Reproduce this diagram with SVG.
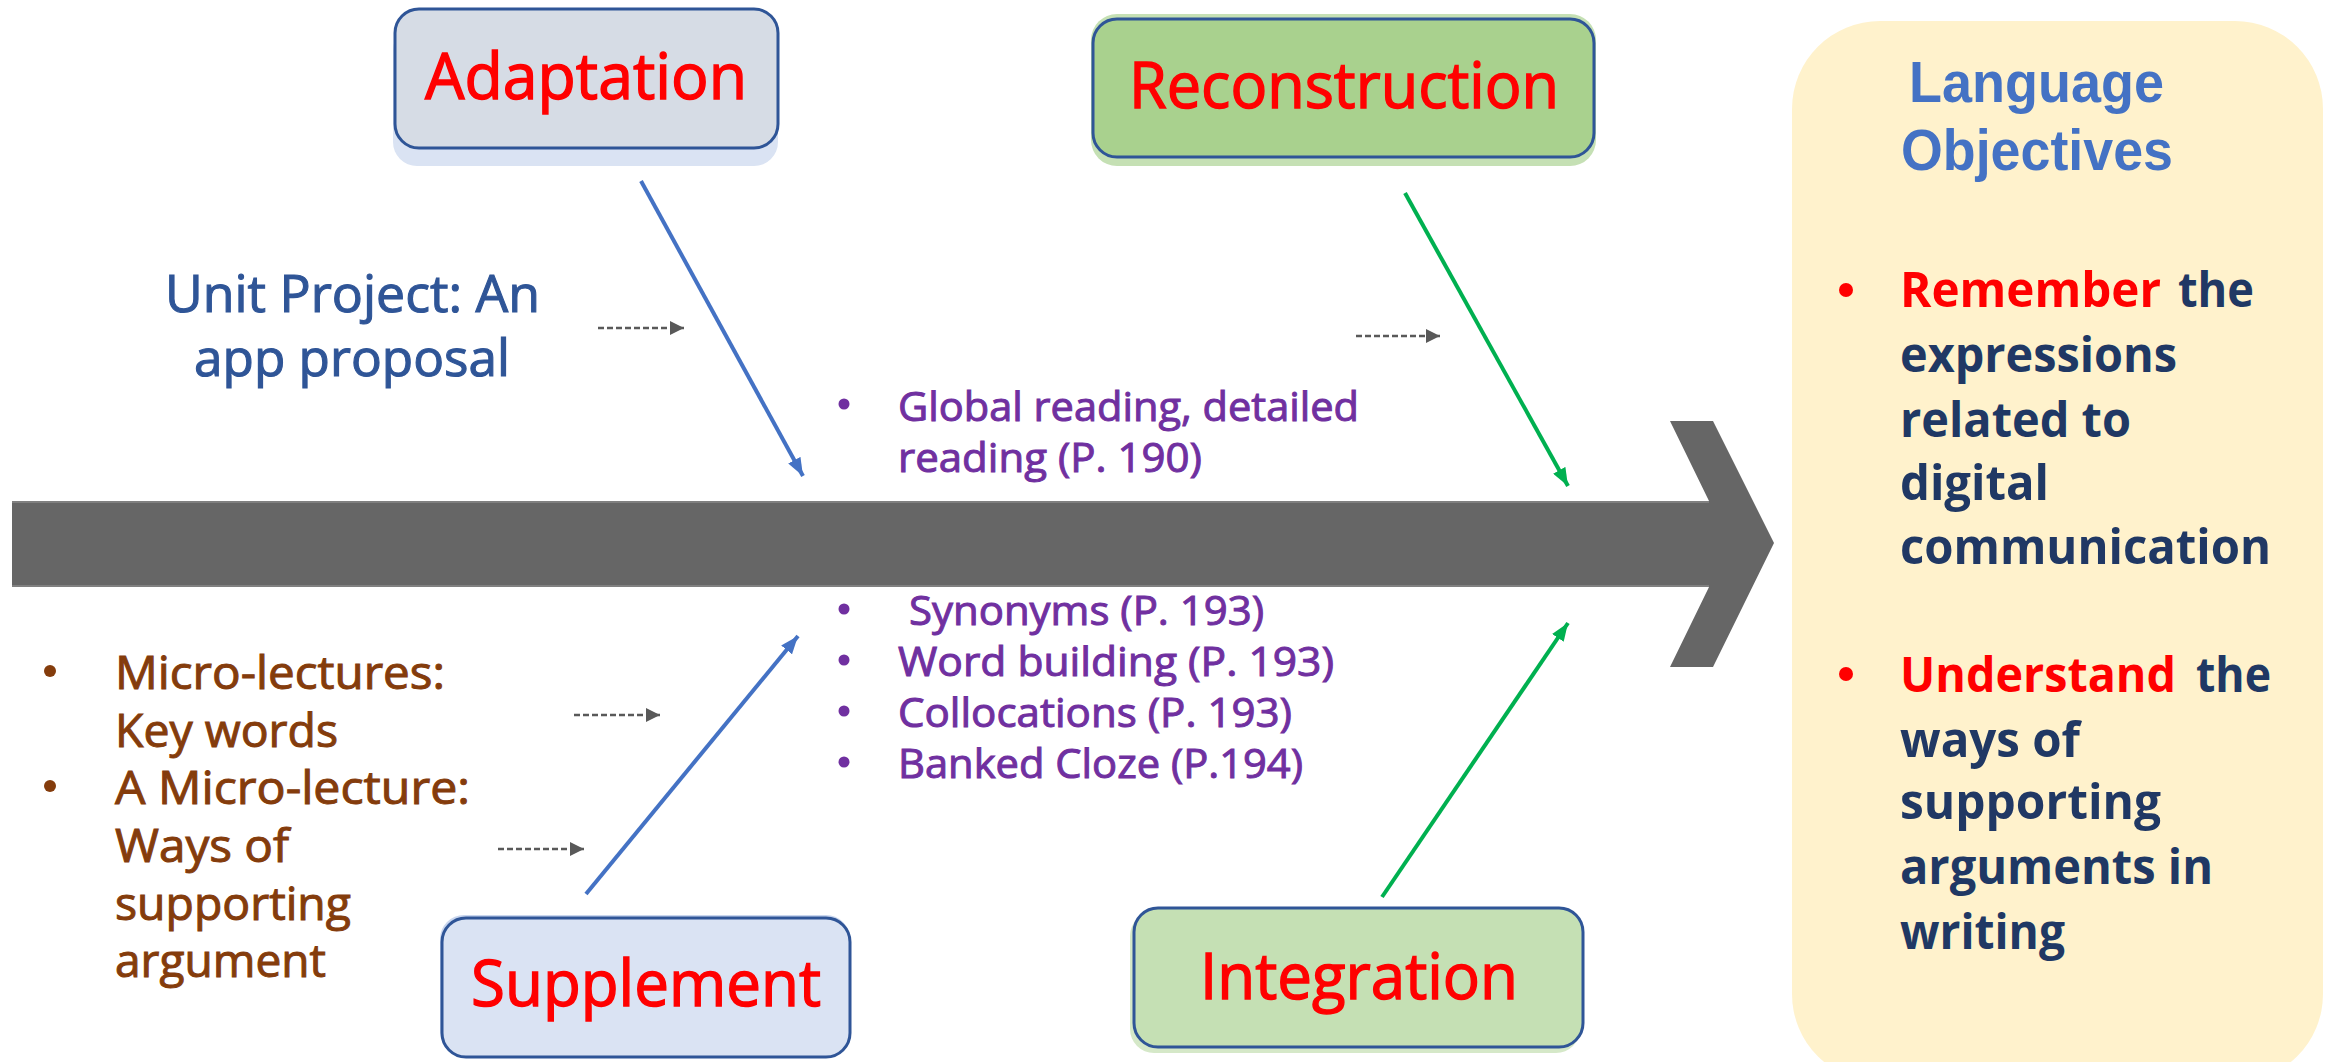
<svg xmlns="http://www.w3.org/2000/svg" width="2328" height="1062" viewBox="0 0 2328 1062">
<defs>
<style>
.box-title{font-family:"Open Sans","Liberation Sans",Arial,sans-serif;font-size:64px;fill:#ff0000;stroke:#ff0000;stroke-width:1.4}
.blue-txt{font-family:"Open Sans","Liberation Sans",Arial,sans-serif;font-size:52px;fill:#2f5597;stroke:#2f5597;stroke-width:1.1}
.brown{font-family:"Open Sans","Liberation Sans",Arial,sans-serif;font-size:46px;fill:#843c0c;stroke:#843c0c;stroke-width:1}
.purple{font-family:"Open Sans","Liberation Sans",Arial,sans-serif;font-size:41px;fill:#7030a0;stroke:#7030a0;stroke-width:1}
.obj-title{font-family:"Liberation Sans",Arial,sans-serif;font-size:58px;font-weight:bold;fill:#4472c4}
.obj{font-family:"Open Sans","Liberation Sans",Arial,sans-serif;font-size:49px;font-weight:bold;fill:#203864}
.obj-red{font-family:"Open Sans","Liberation Sans",Arial,sans-serif;font-size:49px;font-weight:bold;fill:#ff0000}
.box{stroke:#2f5597;stroke-width:3}
.conn-blue{stroke:#4472c4;stroke-width:4;fill:none}
.conn-green{stroke:#00b050;stroke-width:4;fill:none}
.dash{stroke:#595959;stroke-width:2.5;stroke-dasharray:6 3;fill:none}
</style>
<marker id="ahBlue" markerWidth="18" markerHeight="14" refX="18" refY="7" orient="auto" markerUnits="userSpaceOnUse"><path d="M0,0 L18,7 L0,14 z" fill="#4472c4"/></marker>
<marker id="ahGreen" markerWidth="18" markerHeight="14" refX="18" refY="7" orient="auto" markerUnits="userSpaceOnUse"><path d="M0,0 L18,7 L0,14 z" fill="#00b050"/></marker>
<marker id="ahGray" markerWidth="14" markerHeight="14" refX="14" refY="7" orient="auto" markerUnits="userSpaceOnUse"><path d="M0,0 L14,7 L0,14 z" fill="#595959"/></marker>
</defs>
<rect width="2328" height="1062" fill="#ffffff"/>

<g id="spine">
<polygon points="12,501 1709,501 1670,421 1713,421 1774,543 1713,667 1670,667 1709,587 12,587" fill="#666666"/>
<line x1="12" y1="502" x2="1709" y2="502" stroke="#808080" stroke-width="2"/>
<line x1="12" y1="586" x2="1709" y2="586" stroke="#808080" stroke-width="2"/>
</g>

<g id="objectives">
<rect x="1792" y="21" width="531" height="1061" rx="88" fill="#fff2cc"/>
<text class="obj-title" x="1909" y="102" textLength="255" lengthAdjust="spacingAndGlyphs">Language</text>
<text class="obj-title" x="1901" y="170" textLength="272" lengthAdjust="spacingAndGlyphs">Objectives</text>
<circle cx="1846" cy="290" r="7" fill="#ff0000"/>
<text class="obj-red" x="1900" y="307" textLength="261" lengthAdjust="spacingAndGlyphs">Remember</text>
<text class="obj" x="2178" y="307" textLength="76" lengthAdjust="spacingAndGlyphs">the</text>
<text class="obj" x="1900" y="372" textLength="277" lengthAdjust="spacingAndGlyphs">expressions</text>
<text class="obj" x="1900" y="437" textLength="231" lengthAdjust="spacingAndGlyphs">related to</text>
<text class="obj" x="1900" y="500" textLength="149" lengthAdjust="spacingAndGlyphs">digital</text>
<text class="obj" x="1900" y="564" textLength="371" lengthAdjust="spacingAndGlyphs">communication</text>
<circle cx="1846" cy="674" r="7" fill="#ff0000"/>
<text class="obj-red" x="1900" y="692" textLength="276" lengthAdjust="spacingAndGlyphs">Understand</text>
<text class="obj" x="2196" y="692" textLength="75" lengthAdjust="spacingAndGlyphs">the</text>
<text class="obj" x="1900" y="757" textLength="180" lengthAdjust="spacingAndGlyphs">ways of</text>
<text class="obj" x="1900" y="819" textLength="261" lengthAdjust="spacingAndGlyphs">supporting</text>
<text class="obj" x="1900" y="884" textLength="313" lengthAdjust="spacingAndGlyphs">arguments in</text>
<text class="obj" x="1900" y="949" textLength="165" lengthAdjust="spacingAndGlyphs">writing</text>
</g>

<g id="adaptation">
<rect x="393" y="26" width="385" height="140" rx="24" fill="#dae3f3"/>
<rect x="395" y="9" width="383" height="139" rx="24" class="box" fill="#d6dce5"/>
<text class="box-title" x="425" y="99" textLength="322" lengthAdjust="spacingAndGlyphs">Adaptation</text>
</g>

<g id="reconstruction">
<rect x="1091" y="14" width="505" height="152" rx="26" fill="#c5e0b4"/>
<rect x="1093" y="19" width="501" height="138" rx="24" class="box" fill="#a9d18e"/>
<text class="box-title" x="1129" y="108" textLength="430" lengthAdjust="spacingAndGlyphs">Reconstruction</text>
</g>

<g id="supplement">
<rect x="440" y="915" width="410" height="140" rx="24" fill="#c9d6ee"/>
<rect x="442" y="918" width="408" height="139" rx="24" class="box" fill="#dae3f3"/>
<text class="box-title" x="471" y="1006" textLength="350" lengthAdjust="spacingAndGlyphs">Supplement</text>
</g>

<g id="integration">
<rect x="1130" y="912" width="450" height="141" rx="24" fill="#d5e8c8"/>
<rect x="1134" y="908" width="449" height="139" rx="24" class="box" fill="#c5e0b4"/>
<text class="box-title" x="1200" y="999" textLength="318" lengthAdjust="spacingAndGlyphs">Integration</text>
</g>

<g id="unit-project">
<text class="blue-txt" x="165" y="312" textLength="375" lengthAdjust="spacingAndGlyphs">Unit Project: An</text>
<text class="blue-txt" x="194" y="376" textLength="316" lengthAdjust="spacingAndGlyphs">app proposal</text>
</g>

<g id="reading-items">
<circle cx="844" cy="404" r="5.5" fill="#7030a0"/>
<text class="purple" x="898" y="421" textLength="461" lengthAdjust="spacingAndGlyphs">Global reading, detailed</text>
<text class="purple" x="898" y="472" textLength="304" lengthAdjust="spacingAndGlyphs">reading (P. 190)</text>
</g>

<g id="vocab-items">
<circle cx="844" cy="609" r="5.5" fill="#7030a0"/>
<text class="purple" x="909" y="625" textLength="355" lengthAdjust="spacingAndGlyphs">Synonyms (P. 193)</text>
<circle cx="844" cy="660" r="5.5" fill="#7030a0"/>
<text class="purple" x="898" y="676" textLength="436" lengthAdjust="spacingAndGlyphs">Word building (P. 193)</text>
<circle cx="844" cy="711" r="5.5" fill="#7030a0"/>
<text class="purple" x="898" y="727" textLength="394" lengthAdjust="spacingAndGlyphs">Collocations (P. 193)</text>
<circle cx="844" cy="762" r="5.5" fill="#7030a0"/>
<text class="purple" x="898" y="778" textLength="405" lengthAdjust="spacingAndGlyphs">Banked Cloze (P.194)</text>
</g>

<g id="micro-lectures">
<circle cx="50" cy="671" r="6" fill="#843c0c"/>
<text class="brown" x="115" y="689" textLength="330" lengthAdjust="spacingAndGlyphs">Micro-lectures:</text>
<text class="brown" x="115" y="747" textLength="223" lengthAdjust="spacingAndGlyphs">Key words</text>
<circle cx="50" cy="786" r="6" fill="#843c0c"/>
<text class="brown" x="115" y="804" textLength="355" lengthAdjust="spacingAndGlyphs">A Micro-lecture:</text>
<text class="brown" x="115" y="862" textLength="174" lengthAdjust="spacingAndGlyphs">Ways of</text>
<text class="brown" x="115" y="920" textLength="236" lengthAdjust="spacingAndGlyphs">supporting</text>
<text class="brown" x="115" y="977" textLength="211" lengthAdjust="spacingAndGlyphs">argument</text>
</g>

<g id="connectors">
<line class="conn-blue" x1="641" y1="181" x2="803" y2="476" marker-end="url(#ahBlue)"/>
<line class="conn-green" x1="1405" y1="193" x2="1568" y2="486" marker-end="url(#ahGreen)"/>
<line class="conn-blue" x1="586" y1="894" x2="798" y2="636" marker-end="url(#ahBlue)"/>
<line class="conn-green" x1="1382" y1="897" x2="1568" y2="623" marker-end="url(#ahGreen)"/>
<line class="dash" x1="598" y1="328" x2="684" y2="328" marker-end="url(#ahGray)"/>
<line class="dash" x1="1356" y1="336" x2="1440" y2="336" marker-end="url(#ahGray)"/>
<line class="dash" x1="574" y1="715" x2="660" y2="715" marker-end="url(#ahGray)"/>
<line class="dash" x1="498" y1="849" x2="584" y2="849" marker-end="url(#ahGray)"/>
</g>
</svg>
